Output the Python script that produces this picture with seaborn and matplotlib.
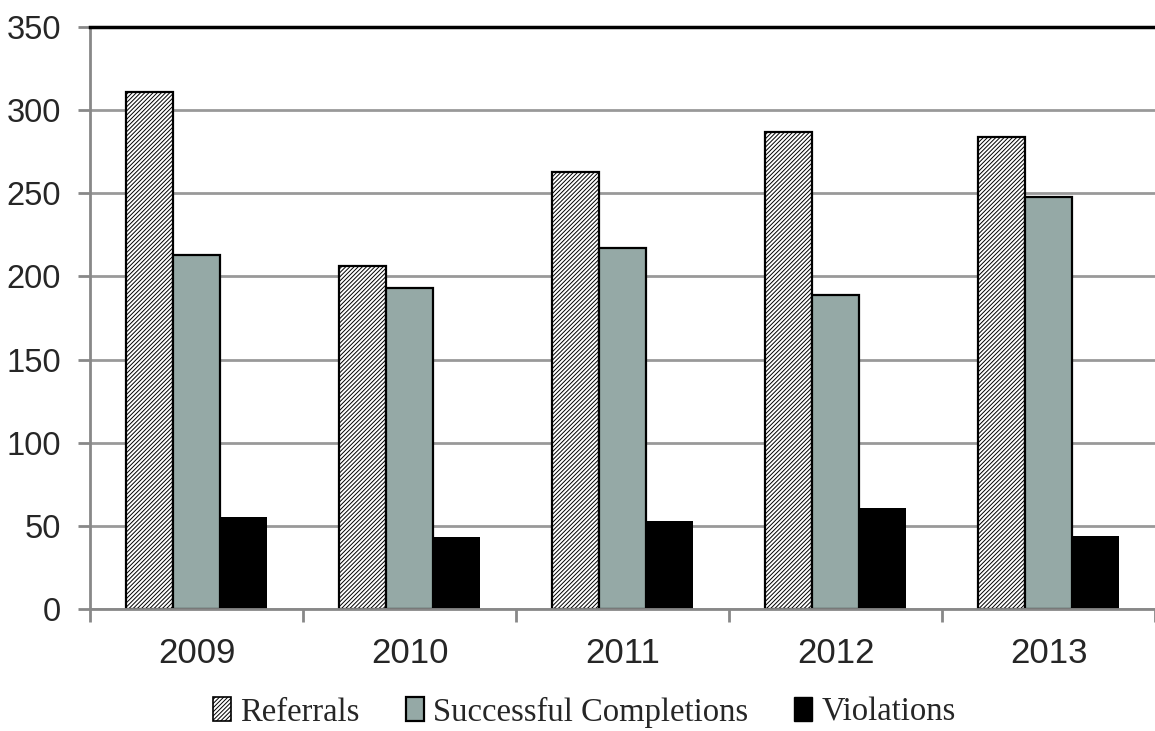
import matplotlib
matplotlib.use("Agg")
import matplotlib.pyplot as plt
import seaborn as sns
import pandas as pd
from matplotlib.patches import Patch

years = ["2009", "2010", "2011", "2012", "2013"]
referrals = [311, 206, 263, 287, 284]
successful = [213, 193, 217, 189, 248]
violations = [55, 43, 53, 61, 44]
series_names = ["Referrals", "Successful Completions", "Violations"]

df = pd.DataFrame({
    "Year": years * 3,
    "Series": [series_names[0]] * 5 + [series_names[1]] * 5 + [series_names[2]] * 5,
    "Value": referrals + successful + violations,
})

sns.set_style("white")
plt.rcParams["hatch.linewidth"] = 0.7
plt.rcParams["hatch.color"] = "#555555"

fig = plt.figure(figsize=(11.55, 7.31), dpi=100)
ax = fig.add_axes([0.078, 0.167, 0.922, 0.796])

palette = {series_names[0]: "white", series_names[1]: "#95A9A6", series_names[2]: "black"}
sns.barplot(data=df, x="Year", y="Value", hue="Series", palette=palette,
            hue_order=series_names, order=years, width=0.665, ax=ax,
            edgecolor="black", linewidth=1.6, legend=False, saturation=1)

for container, name in zip(ax.containers, series_names):
    for p in container:
        if name == "Referrals":
            p.set_hatch("////////")
            p.set_edgecolor("black")
        elif name == "Violations":
            p.set_linewidth(0)

ax.set_ylim(0, 350)
ax.set_xlim(-0.5, 4.5)
ax.set_yticks(range(0, 351, 50))
ax.yaxis.grid(True, color="#999999", linewidth=2)
ax.set_axisbelow(True)
ax.set_xlabel("")
ax.set_ylabel("")

for s in ["left", "bottom"]:
    ax.spines[s].set_color("#888888")
    ax.spines[s].set_linewidth(2)
ax.spines["right"].set_visible(False)
ax.spines["top"].set_color("black")
ax.spines["top"].set_linewidth(2.5)

ax.tick_params(axis="y", left=True, length=9, width=2, color="#888888",
               labelsize=23.5, pad=12, direction="out")
ax.tick_params(axis="x", which="major", bottom=False, length=0, labelsize=25, pad=20)
for lbl in ax.get_yticklabels() + ax.get_xticklabels():
    lbl.set_fontfamily("Liberation Sans")
ax.set_xticks([i + 0.5 for i in range(-1, 5)], minor=True)
ax.tick_params(axis="x", which="minor", bottom=True, length=9, width=2,
               color="#888888", direction="out")

handles = [
    Patch(facecolor="white", edgecolor="black", hatch="////////", linewidth=1.2),
    Patch(facecolor="#95A9A6", edgecolor="black", linewidth=1.6),
    Patch(facecolor="black", edgecolor="black"),
]
fig.legend(handles, series_names, loc="center", bbox_to_anchor=(0.506, 0.026),
           ncol=3, frameon=False, prop={"family": "Liberation Serif", "size": 23.5},
           handlelength=0.55, handleheight=0.75, handletextpad=0.3, columnspacing=1.4)

fig.savefig("out.png", dpi=100)
